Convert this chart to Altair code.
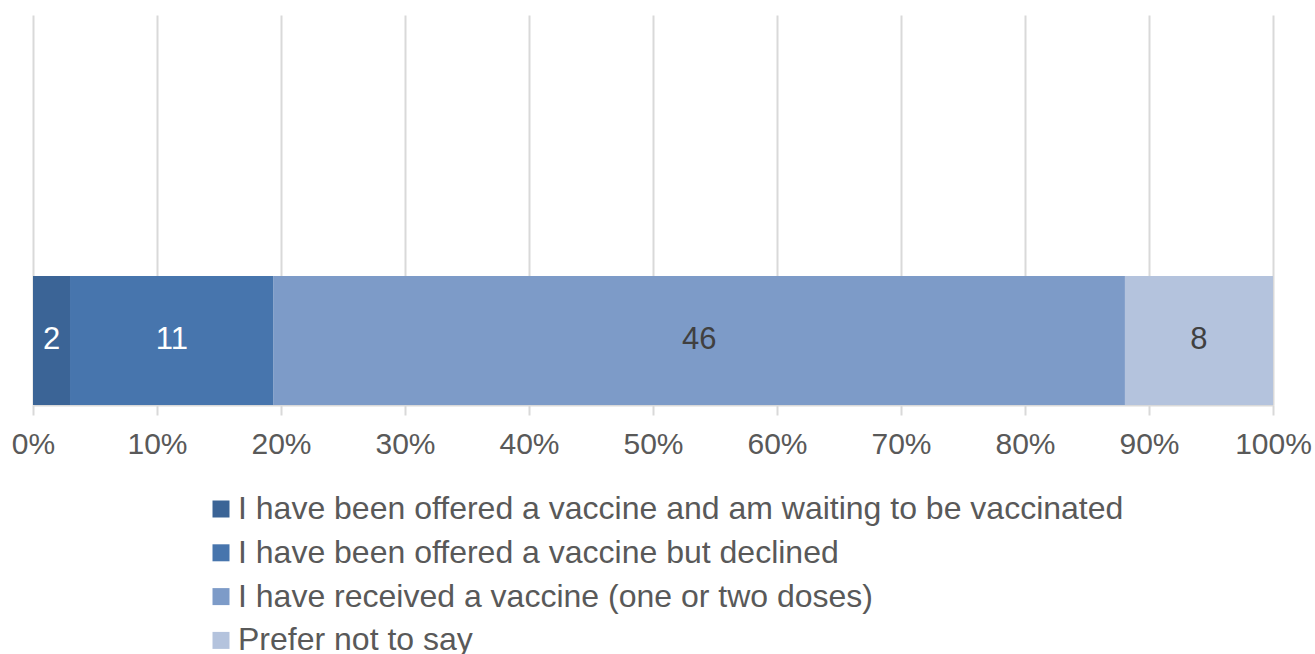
import altair as alt
import pandas as pd

categories = [
    "I have been offered a vaccine and am waiting to be vaccinated",
    "I have been offered a vaccine but declined",
    "I have received a vaccine (one or two doses)",
    "Prefer not to say",
]
counts = [2, 11, 46, 8]
colors = ["#3B6496", "#4775AD", "#7D9BC8", "#B4C3DD"]
row_label = ["All respondents"] * 4
row_domain = ["(empty)", "All respondents"]
tick_values = [0, 0.1, 0.2, 0.3, 0.4, 0.5, 0.6, 0.7, 0.8, 0.9, 1.0]

df = pd.DataFrame({
    "row": row_label,
    "category": categories,
    "count": counts,
    "idx": list(range(len(categories))),
})

FONT = "Liberation Sans"

base = alt.Chart(df).transform_joinaggregate(
    total="sum(count)"
).transform_window(
    cum="sum(count)", sort=[alt.SortField("idx")], frame=[None, 0]
).transform_calculate(
    x_end="datum.cum / datum.total",
    x_start="(datum.cum - datum.count) / datum.total",
    x_mid="(datum.cum - datum.count / 2) / datum.total",
)

yenc = alt.Y(
    "row:N",
    axis=None,
    scale=alt.Scale(domain=row_domain, paddingInner=0.5057, paddingOuter=0),
)

bars = base.mark_bar().encode(
    x=alt.X(
        "x_start:Q",
        scale=alt.Scale(domain=[0, 1]),
        axis=alt.Axis(
            values=tick_values,
            format=".0%",
            title=None,
            labelFont=FONT,
            labelFontSize=30,
            labelColor="#595959",
            labelPadding=14,
            labelFlush=False,
            tickSize=10,
            tickColor="#D9D9D9",
            tickWidth=2,
            domainColor="#D9D9D9",
            domainWidth=2,
            gridColor="#D9D9D9",
            gridWidth=2,
            grid=True,
        ),
    ),
    x2="x_end:Q",
    y=yenc,
    color=alt.Color(
        "category:N",
        scale=alt.Scale(domain=categories, range=colors),
        sort=categories,
        legend=alt.Legend(
            title=None,
            orient="none",
            direction="vertical",
            legendX=172,
            legendY=478,
            symbolType="square",
            symbolSize=289,
            symbolStrokeWidth=0,
            symbolOpacity=1,
            labelFont=FONT,
            labelFontSize=32,
            labelColor="#595959",
            labelOffset=1,
            labelLimit=2000,
            rowPadding=11.8,
        ),
    ),
)

texts = base.mark_text(font=FONT, fontSize=31).encode(
    x="x_mid:Q",
    y=yenc,
    text="count:Q",
    color=alt.condition("datum.idx < 2", alt.value("#FFFFFF"), alt.value("#404040")),
)

chart = alt.layer(bars, texts).properties(
    width=1240,
    height=390,
    autosize=alt.AutoSizeParams(type="none"),
    padding={"left": 33, "top": 15, "right": 42, "bottom": 260},
).configure_view(stroke=None)

chart.save("out.html", embed_options={"renderer": "svg", "actions": False})
